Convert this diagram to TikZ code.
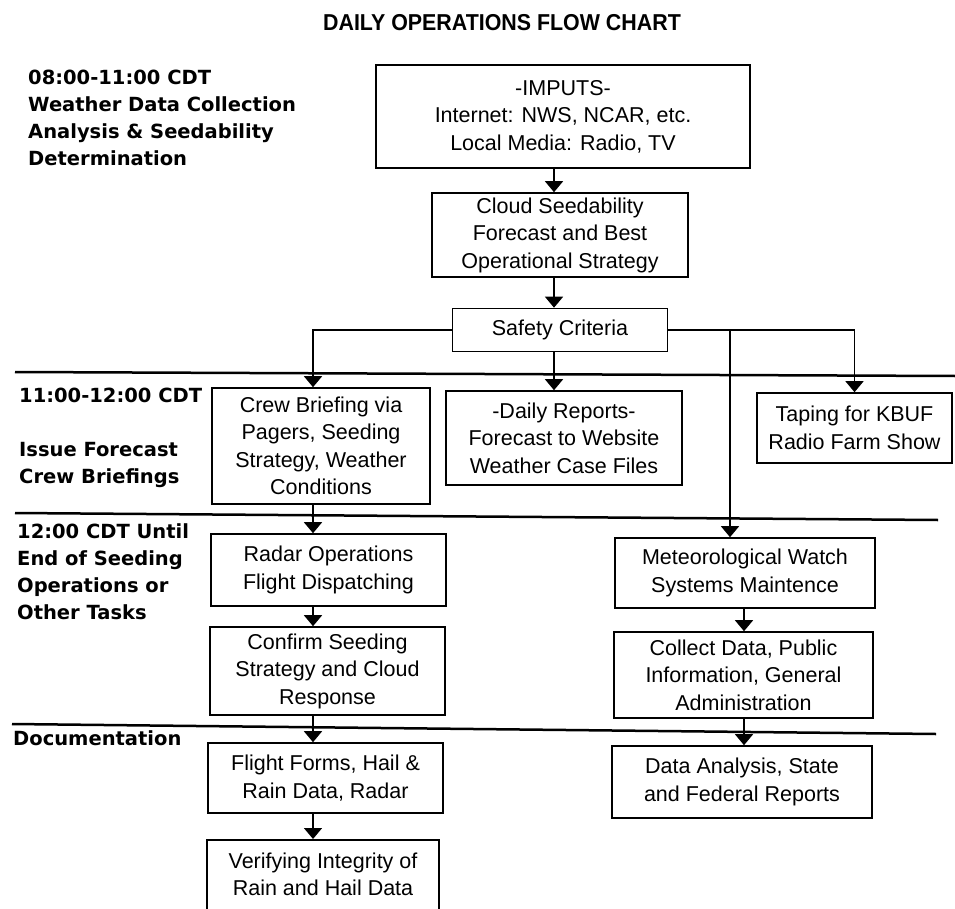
\documentclass[tikz,border=0pt]{standalone}
\usepackage{fontspec}
\setmainfont{Liberation Sans}
\newfontfamily\rotulofont{DejaVu Sans}
\newfontfamily\titulofont{Liberation Sans}[FakeStretch=0.93]
\usetikzlibrary{arrows.meta}

\begin{document}
\begin{tikzpicture}[x=1pt, y=-1pt, %Escala em pixels, y para baixo
	caixa/.style={draw, line width=1.6pt, align=center, inner sep=0pt, font=\fontsize{21.5}{27.5}\selectfont},
	rotulo/.style={anchor=north west, align=left, inner sep=0pt, font=\rotulofont\bfseries\fontsize{19.5}{27}\selectfont},
	seta/.style={line width=1.5pt, -{Triangle[width=18pt,length=11pt]}},
	divisa/.style={line width=2.5pt}]
					\useasboundingbox (0,0) rectangle (955,909); %Moldura
					\clip (0,0) rectangle (955,909);
						%Titulo
					\node[anchor=north, inner sep=0pt, font=\titulofont\bfseries\fontsize{23}{27}\selectfont] (titulo) at (502,14) {DAILY OPERATIONS FLOW CHART};
						%Faixas de horario
					\draw[divisa] (15,372) -- (955,376); %Primeira divisa
					\draw[divisa] (15,513) -- (938,520); %Segunda divisa
					\draw[divisa] (12,724) -- (936,734); %Terceira divisa
					\node[rotulo] (faixa1) at (28,70) {08:00-11:00 CDT\\Weather Data Collection\\Analysis \& Seedability\\Determination};
					\node[rotulo] (faixa2) at (19,388) {11:00-12:00 CDT};
					\node[rotulo] (tarefa2) at (19,442) {Issue Forecast\\Crew Briefings};
					\node[rotulo] (faixa3) at (17,523) {12:00 CDT Until\\End of Seeding\\Operations or\\Other Tasks};
					\node[rotulo] (faixa4) at (13,730) {Documentation};
						%Caixas
					\node[caixa, minimum width=374pt, minimum height=103pt] (imputs) at (563,116.5) {-IMPUTS-\\Internet: NWS, NCAR, etc.\\Local Media: Radio, TV};
					\node[caixa, minimum width=256pt, minimum height=84pt] (nuvem) at (560,235) {Cloud Seedability\\Forecast and Best\\Operational Strategy};
					\node[caixa, minimum width=215pt, minimum height=43pt] (seguranca) at (560,330) {Safety Criteria};
					\node[caixa, minimum width=218pt, minimum height=116pt] (tripulacao) at (321,446) {Crew Briefing via\\Pagers, Seeding\\Strategy, Weather\\Conditions};
					\node[caixa, minimum width=236pt, minimum height=94pt] (relatorios) at (564,438) {-Daily Reports-\\Forecast to Website\\Weather Case Files};
					\node[caixa, minimum width=195pt, minimum height=70pt] (radio) at (854.5,428) {Taping for KBUF\\Radio Farm Show};
					\node[caixa, minimum width=235pt, minimum height=72pt] (radar) at (328.5,570) {Radar Operations\\Flight Dispatching};
					\node[caixa, minimum width=260pt, minimum height=70pt] (vigilancia) at (745,573) {Meteorological Watch\\Systems Maintence};
					\node[caixa, minimum width=235pt, minimum height=88pt] (confirma) at (327.5,671) {Confirm Seeding\\Strategy and Cloud\\Response};
					\node[caixa, minimum width=259pt, minimum height=86pt] (coleta) at (743.5,675) {Collect Data, Public\\Information, General\\Administration};
					\node[caixa, minimum width=235pt, minimum height=70pt] (voo) at (325.5,778) {Flight Forms, Hail \&\\Rain Data, Radar};
					\node[caixa, minimum width=260pt, minimum height=72pt] (analise) at (742,782) {Data Analysis, State\\and Federal Reports};
					\node[caixa, minimum width=232pt, minimum height=96pt, anchor=north] (verifica) at (323,839) {Verifying Integrity of\\Rain and Hail Data\\\mbox{}};
						%Setas
					\coordinate (eixo) at (554,0); %Eixo central
					\coordinate (colesq) at (313,0); %Coluna esquerda
					\coordinate (coldir) at (744,0); %Coluna direita
					\coordinate (desvio) at (730,0); %Ramal da vigilancia
					\draw[seta] (imputs.south -| eixo) -- (nuvem.north -| eixo);
					\draw[seta] (nuvem.south -| eixo) -- (seguranca.north -| eixo);
					\draw[seta] (seguranca.south -| eixo) -- (relatorios.north -| eixo);
					\draw[seta] (seguranca.west) -| (tripulacao.north -| colesq);
					\draw[seta] (seguranca.east) -| (radio.north);
					\draw[seta] (seguranca.east -| desvio) -- (vigilancia.north -| desvio);
					\draw[seta] (tripulacao.south -| colesq) -- (radar.north -| colesq);
					\draw[seta] (radar.south -| colesq) -- (confirma.north -| colesq);
					\draw[seta] (confirma.south -| colesq) -- (voo.north -| colesq);
					\draw[seta] (voo.south -| colesq) -- (verifica.north -| colesq);
					\draw[seta] (vigilancia.south -| coldir) -- (coleta.north -| coldir);
					\draw[seta] (coleta.south -| coldir) -- (analise.north -| coldir);
				\end{tikzpicture}
\end{document}
